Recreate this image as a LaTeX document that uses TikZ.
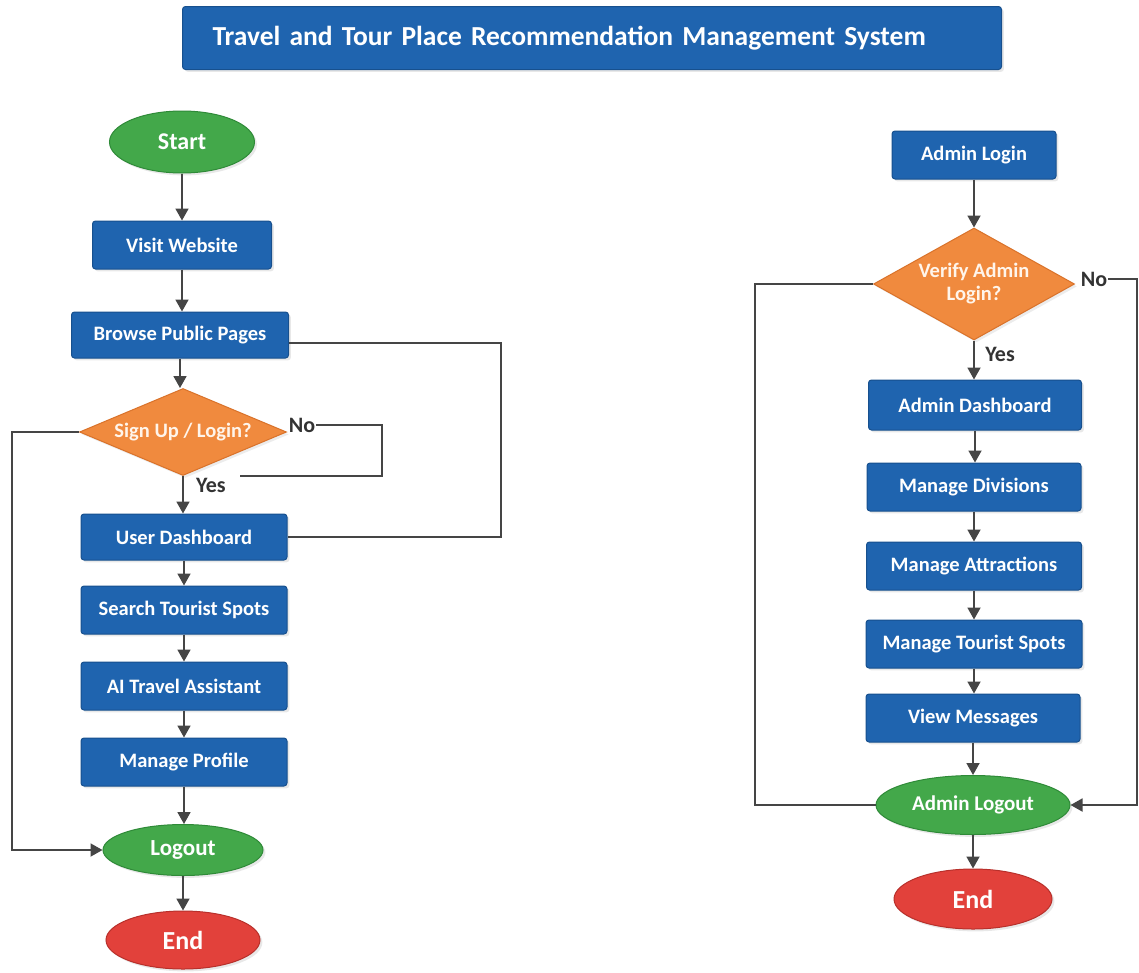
\documentclass[tikz,border=0pt]{standalone}
\usepackage{fontspec}
\setmainfont{Carlito}
\usetikzlibrary{shapes.geometric,arrows.meta,shadows}

\definecolor{boxblue}{HTML}{1F64AF}
\definecolor{boxedge}{HTML}{17508E}
\definecolor{askorange}{HTML}{F08A3E}
\definecolor{askedge}{HTML}{D9722A}
\definecolor{termgreen}{HTML}{43A84A}
\definecolor{termgreenedge}{HTML}{2F8A38}
\definecolor{termred}{HTML}{E2413B}
\definecolor{termrededge}{HTML}{B8302B}
\definecolor{wire}{HTML}{454545}

\begin{document}
\begin{tikzpicture}[x=1pt,y=-1pt,
    box/.style={rectangle, rounded corners=3pt, fill=boxblue, draw=boxedge, line width=1pt,
        text=white, font=\fontsize{20.5}{23}\selectfont\bfseries, minimum height=48pt,
        inner sep=0pt, drop shadow={opacity=0.18}},
    titlebox/.style={box, font=\fontsize{27.5}{31}\selectfont\bfseries, minimum height=63pt,
        text width=759pt, inner xsep=30pt, align=left},
    ask/.style={diamond, fill=askorange, draw=askedge, line width=1pt, text=white!92!orange,
        font=\fontsize{20.5}{23}\selectfont\bfseries, inner sep=0pt, align=center,
        drop shadow={opacity=0.15}},
    term/.style={ellipse, line width=1pt, text=white, inner sep=0pt,
        font=\fontsize{22}{24}\selectfont\bfseries, drop shadow={opacity=0.18}},
    go/.style={term, fill=termgreen, draw=termgreenedge},
    stop/.style={term, fill=termred, draw=termrededge, font=\fontsize{26}{28}\selectfont\bfseries},
    answer/.style={text=black!80, font=\fontsize{22}{24}\selectfont\bfseries, inner sep=1pt},
    flow/.style={draw=wire, line width=1.8pt, -{Triangle[length=12pt,width=13pt]}},
    link/.style={draw=wire, line width=1.8pt}]

    \fill[white] (0,0) rectangle (1139,972);
    \useasboundingbox (0,0) rectangle (1139,972);

    % title
    \node[titlebox] (title) at (592,38) {Travel and Tour Place Recommendation Management System};

    % user side
    \node[go, minimum width=145pt, minimum height=62pt, font=\fontsize{24}{26}\selectfont\bfseries] (start) at (182,142) {Start};
    \node[box, minimum width=179pt] (visit) at (182,245) {Visit Website};
    \node[box, minimum width=217pt, minimum height=46pt] (browse) at (180,335) {Browse Public Pages};
    \node[ask, aspect=2.4, minimum width=207pt, minimum height=87pt] (signup) at (183,432) {Sign Up / Login?};
    \node[box, minimum width=206pt, minimum height=46pt] (dash) at (184,537) {User Dashboard};
    \node[box, minimum width=206pt] (search) at (184,610) {Search Tourist Spots};
    \node[box, minimum width=206pt] (ai) at (184,686) {AI Travel Assistant};
    \node[box, minimum width=206pt] (profile) at (184,762) {Manage Profile};
    \node[go, minimum width=160pt, minimum height=51pt, font=\fontsize{23}{25}\selectfont\bfseries] (logout) at (183,850) {Logout};
    \node[stop, minimum width=154pt, minimum height=58pt] (endl) at (183,940) {End};

    \node[answer] (nol) at (302,425) {No};
    \node[answer] (yesl) at (211,485) {Yes};
    \coordinate (noend) at (240,476);
    \coordinate (nocorner) at (382,476);
    \coordinate (lrail) at (12,0);

    \draw[flow] (start) -- (start |- visit.north);
    \draw[flow] (visit.south) -- (visit.south |- browse.north);
    \draw[flow] (browse.south) -- (browse.south |- signup.north);
    \draw[flow] (signup) -- (signup |- dash.north);
    \draw[flow] (dash) -- (search);
    \draw[flow] (search) -- (ai);
    \draw[flow] (ai) -- (profile);
    \draw[flow] (profile.south) -- (profile.south |- logout.north);
    \draw[flow] (logout) -- (endl);

    \draw[link] ([yshift=-8pt]browse.east) -- ++(212,0) |- (dash.east);
    \draw[link] (nol.east) -| (nocorner) -- (noend);
    \draw[flow] (signup.west) -- (signup.west -| lrail) |- (logout.west);

    % admin side
    \node[box, minimum width=164pt] (alogin) at (974,155) {Admin Login};
    \node[ask, aspect=1.8, minimum width=201pt, minimum height=112pt] (verify) at (974,284) {Verify Admin\\Login?};
    \node[box, minimum width=213pt, minimum height=50pt] (adash) at (975,405) {Admin Dashboard};
    \node[box, minimum width=214pt] (divs) at (974,487) {Manage Divisions};
    \node[box, minimum width=215pt] (attr) at (974,566) {Manage Attractions};
    \node[box, minimum width=216pt] (spots) at (974,644) {Manage Tourist Spots};
    \node[box, minimum width=214pt] (msgs) at (973,718) {View Messages};
    \node[go, minimum width=194pt, minimum height=59pt, font=\fontsize{21}{23}\selectfont\bfseries] (alogout) at (973,805) {Admin Logout};
    \node[stop, minimum width=158pt, minimum height=60pt] (endr) at (973,899) {End};

    \node[answer] (nor) at (1094,279) {No};
    \node[answer] (yesr) at (1000,354) {Yes};
    \coordinate (rrailin) at (755,0);
    \coordinate (rrailout) at (1137,0);

    \draw[flow] (alogin) -- (verify);
    \draw[flow] (verify.south) -- (verify.south |- adash.north);
    \draw[flow] (adash.south) -- (adash.south |- divs.north);
    \draw[flow] (divs) -- (attr);
    \draw[flow] (attr) -- (spots);
    \draw[flow] (spots.south) -- (spots.south |- msgs.north);
    \draw[flow] (msgs) -- (alogout);
    \draw[flow] (alogout) -- (endr);

    \draw[link] (verify.west) -- (verify.west -| rrailin) |- (alogout.west);
    \draw[flow] (nor.east) -- (nor.east -| rrailout) |- (alogout.east);
\end{tikzpicture}
\end{document}
